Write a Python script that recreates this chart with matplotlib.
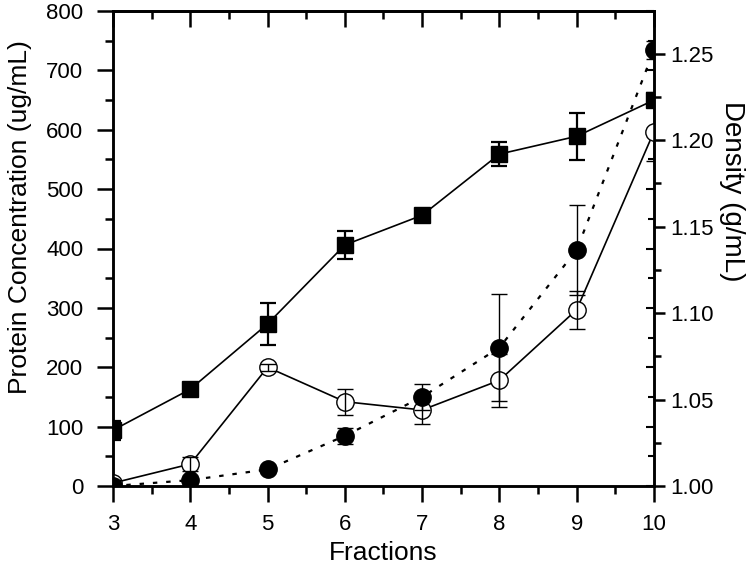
import numpy as np
import matplotlib.pyplot as plt
from matplotlib.ticker import MultipleLocator, FormatStrFormatter

plt.rcParams['font.family'] = ['Liberation Sans', 'DejaVu Sans']

# Fractions collected from the gradient
fractions = [3, 4, 5, 6, 7, 8, 9, 10]

# Protein concentration (ug/mL), filled squares
protein_sq = [94, 163, 273, 406, 456, 559, 589, 650]
protein_sq_err = [16, 6, 35, 23, 7, 20, 40, 12]

# Protein concentration (ug/mL), open circles
protein_oc = [5, 37, 200, 142, 128, 178, 297, 597]
protein_oc_err = [5, 12, 6, 22, 24, 45, 32, 50]

# Density (g/mL), filled circles
density = [1.000, 1.0034, 1.0096, 1.029, 1.0515, 1.080, 1.1365, 1.252]
density_err = [0.001, 0.001, 0.001, 0.0045, 0.0075, 0.031, 0.026, 0.005]

fig = plt.figure(figsize=(7.47, 5.67), dpi=100)
ax = fig.add_axes([113 / 747, 81 / 567, 541 / 747, 475 / 567])
ax2 = ax.twinx()

ms = 12.5
# squares
ax.plot(fractions, protein_sq, color='black', lw=1.2, zorder=2)
ax.errorbar(fractions, protein_sq, yerr=protein_sq_err, fmt='s', ms=ms * 0.95,
            color='black', ecolor='black', elinewidth=1.6, capsize=6, capthick=1.6,
            zorder=3)
# open circles
ax.plot(fractions, protein_oc, color='black', lw=1.2, zorder=2)
ax.plot(fractions, protein_oc, 'o', ms=ms, mfc='white', mec='black', mew=1.0, zorder=3)
ax.errorbar(fractions, protein_oc, yerr=protein_oc_err, fmt='none',
            ecolor='black', elinewidth=1.0, capsize=6, capthick=1.0, zorder=4)

# density on the right axis
ax2.plot(fractions, density, color='black', lw=1.6, ls=(0, (2, 4)), zorder=2)
ax2.errorbar(fractions, density, yerr=density_err, fmt='o', ms=ms,
             color='black', ecolor='black', elinewidth=1.0, capsize=6, capthick=1.0,
             zorder=3)

ax.set_xlim(3, 10)
ax.set_ylim(0, 800)
ax2.set_ylim(1.0, 1.2746)

ax.xaxis.set_major_locator(MultipleLocator(1))
ax.xaxis.set_minor_locator(MultipleLocator(0.5))
ax.yaxis.set_major_locator(MultipleLocator(100))
ax.yaxis.set_minor_locator(MultipleLocator(50))
ax2.yaxis.set_major_locator(MultipleLocator(0.05))
ax2.yaxis.set_minor_locator(MultipleLocator(0.025))
ax2.yaxis.set_major_formatter(FormatStrFormatter('%.2f'))

for a in (ax, ax2):
    for s in a.spines.values():
        s.set_linewidth(1.8)

ax.tick_params(which='major', direction='out', length=11.5, width=1.8,
               labelsize=16, top=False, right=False)
ax.tick_params(axis='x', which='major', pad=9)
ax.tick_params(axis='y', which='major', pad=10)
ax.tick_params(which='minor', direction='out', length=5.5, width=1.8,
               top=False, right=False)
ax2.tick_params(which='major', direction='out', length=8, width=1.8,
                labelsize=16, pad=4)
ax2.tick_params(which='minor', direction='out', length=5, width=1.8)

# inward ticks on top and mirrored left-axis ticks on the right
top = ax.secondary_xaxis('top')
top.xaxis.set_major_locator(MultipleLocator(1))
top.xaxis.set_minor_locator(MultipleLocator(0.5))
top.tick_params(which='major', direction='in', length=11.5, width=1.8, labeltop=False)
top.tick_params(which='minor', direction='in', length=5.5, width=1.8)
top.spines['top'].set_linewidth(1.8)

rgt = ax.secondary_yaxis('right')
rgt.yaxis.set_major_locator(MultipleLocator(100))
rgt.yaxis.set_minor_locator(MultipleLocator(50))
rgt.tick_params(which='major', direction='in', length=6, width=1.5, labelright=False)
rgt.tick_params(which='minor', direction='in', length=4, width=1.5)

ax.set_xlabel('Fractions', fontsize=19, labelpad=4)
ax.set_ylabel('Protein Concentration (ug/mL)', fontsize=19)
ax.yaxis.set_label_coords(-0.15, 0.566)
ax2.set_ylabel('Density (g/mL)', fontsize=20, rotation=270, va='center')
ax2.yaxis.set_label_coords(1.145, 0.62)

fig.savefig('out.png', dpi=100)
